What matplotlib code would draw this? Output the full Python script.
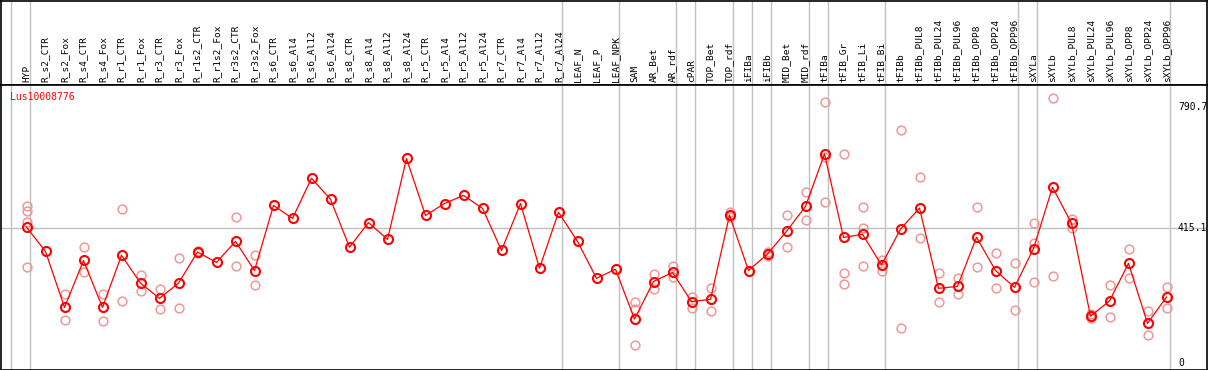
import matplotlib
matplotlib.use('Agg')
import matplotlib.pyplot as plt
from matplotlib.transforms import blended_transform_factory

# categorias (amostras) na ordem do eixo x
categorias = ['HYP', 'R_s2_CTR', 'R_s2_Fox', 'R_s4_CTR', 'R_s4_Fox', 'R_r1_CTR', 'R_r1_Fox',
              'R_r3_CTR', 'R_r3_Fox', 'R_r1s2_CTR', 'R_r1s2_Fox', 'R_r3s2_CTR', 'R_r3s2_Fox',
              'R_s6_CTR', 'R_s6_Al4', 'R_s6_Al12', 'R_s6_Al24', 'R_s8_CTR', 'R_s8_Al4',
              'R_s8_Al12', 'R_s8_Al24', 'R_r5_CTR', 'R_r5_Al4', 'R_r5_Al12', 'R_r5_Al24',
              'R_r7_CTR', 'R_r7_Al4', 'R_r7_Al12', 'R_r7_Al24', 'LEAF_N', 'LEAF_P', 'LEAF_NPK',
              'SAM', 'AR_Bet', 'AR_rdf', 'cPAR', 'TOP_Bet', 'TOP_rdf', 'iFIBa', 'iFIBb',
              'MID_Bet', 'MID_rdf', 'tFIBa', 'tFIB_Gr', 'tFIB_Li', 'tFIB_Bi', 'tFIBb',
              'tFIBb_PUL8', 'tFIBb_PUL24', 'tFIBb_PUL96', 'tFIBb_OPP8', 'tFIBb_OPP24',
              'tFIBb_OPP96', 'sXYLa', 'sXYLb', 'sXYLb_PUL8', 'sXYLb_PUL24', 'sXYLb_PUL96',
              'sXYLb_OPP8', 'sXYLb_OPP24', 'sXYLb_OPP96']

# media de expressao por amostra
medias = [419, 344, 171, 316, 171, 332, 246, 199, 246, 342, 310, 375, 285,
          486, 446, 570, 505, 357, 433, 381, 631, 455, 492, 517, 477,
          347, 492, 292, 465, 375, 261, 289, 135, 251, 279, 189, 196, 456,
          285, 336, 406, 483, 645, 387, 397, 302, 413, 478, 230, 236, 388,
          285, 233, 353, 542, 431, 144, 191, 307, 122, 203]

# replicas (vazio quando nao aparecem separadas da media)
replicas = [[483, 469, 436, 296], [], [211, 132], [357, 279], [214, 129], [474, 190],
            [270, 221], [229, 165], [323, 168], [345, 339], [], [450, 298], [332, 239],
            [], [], [], [], [], [], [], [], [], [], [], [],
            [], [], [], [], [], [], [], [188, 165, 54], [273, 227], [299, 264], [202, 169],
            [230, 160], [467, 451], [], [343, 329], [456, 357], [526, 440],
            [805, 637, 497], [644, 276, 242], [481, 416, 299], [317, 285], [719, 106],
            [573, 384], [276, 187], [261, 211], [480, 295], [338, 230], [307, 162],
            [433, 370, 251], [817, 267], [445, 417], [150, 139], [240, 140], [353, 261],
            [160, 85], [233, 168]]

# ultimo indice de cada grupo (linhas verticais cinza)
fim_grupos = [-1, 0, 28, 31, 34, 35, 37, 38, 39, 41, 42, 45, 52, 53, 60]
marcas_y = [790.7, 415.1, 0]
gene = 'Lus10008776'

vermelho = '#ff0000'
rosa = '#f09898'
cinza = '#c0c0c0'
fonte = 'DejaVu Sans Mono'

W, H = 1209, 370
fig = plt.figure(figsize=(W / 100, H / 100), dpi=100)
ax_cab = fig.add_axes([1 / W, (H - 85) / H, 1206 / W, 84.5 / H])
ax = fig.add_axes([1 / W, 0.5 / H, 1206 / W, 284.5 / H])

xmin, xmax = (1 - 26.5) / 19, (1207 - 26.5) / 19
for a in (ax_cab, ax):
    a.set_xlim(xmin, xmax)
    a.set_xticks([])
    a.set_yticks([])
    for s in a.spines.values():
        s.set_color('black')
        s.set_linewidth(1.2)
    for g in fim_grupos:
        a.axvline(g + 0.21, color=cinza, lw=1, zorder=0)

ax.set_ylim(-20.7, 858)
ax.axhline(415.1, color=cinza, lw=1, zorder=0)

# replicas em rosa claro
for i, reps in enumerate(replicas):
    if reps:
        ax.plot([i] * len(reps), reps, 'o', ms=6.3, mfc='none', mec=rosa, mew=1.1,
                ls='none', zorder=2)

# linha das medias
xs = list(range(len(categorias)))
ax.plot(xs, medias, '-', color=vermelho, lw=0.9, zorder=3)
ax.plot(xs, medias, 'o', ms=6.5, mfc='none', mec=vermelho, mew=1.5, ls='none', zorder=4)

# rotulos das amostras no cabecalho
tr = blended_transform_factory(ax_cab.transData, ax_cab.transAxes)
for i, nome in enumerate(categorias):
    ax_cab.text(i, 0.03, nome, rotation=90, ha='center', va='bottom', transform=tr,
                fontsize=6.8, family=fonte, color='black')

# valores do eixo y a direita
for v in marcas_y:
    ax.text(60.6, v, str(v) if v else '0', ha='left', va='center', fontsize=7,
            family=fonte, color='black')

ax.text(9 / 1206, 1 - 12 / 284.5, gene, transform=ax.transAxes, ha='left', va='center',
        fontsize=7, family=fonte, color=vermelho)

fig.savefig('out.png', dpi=100)
plt.close()
